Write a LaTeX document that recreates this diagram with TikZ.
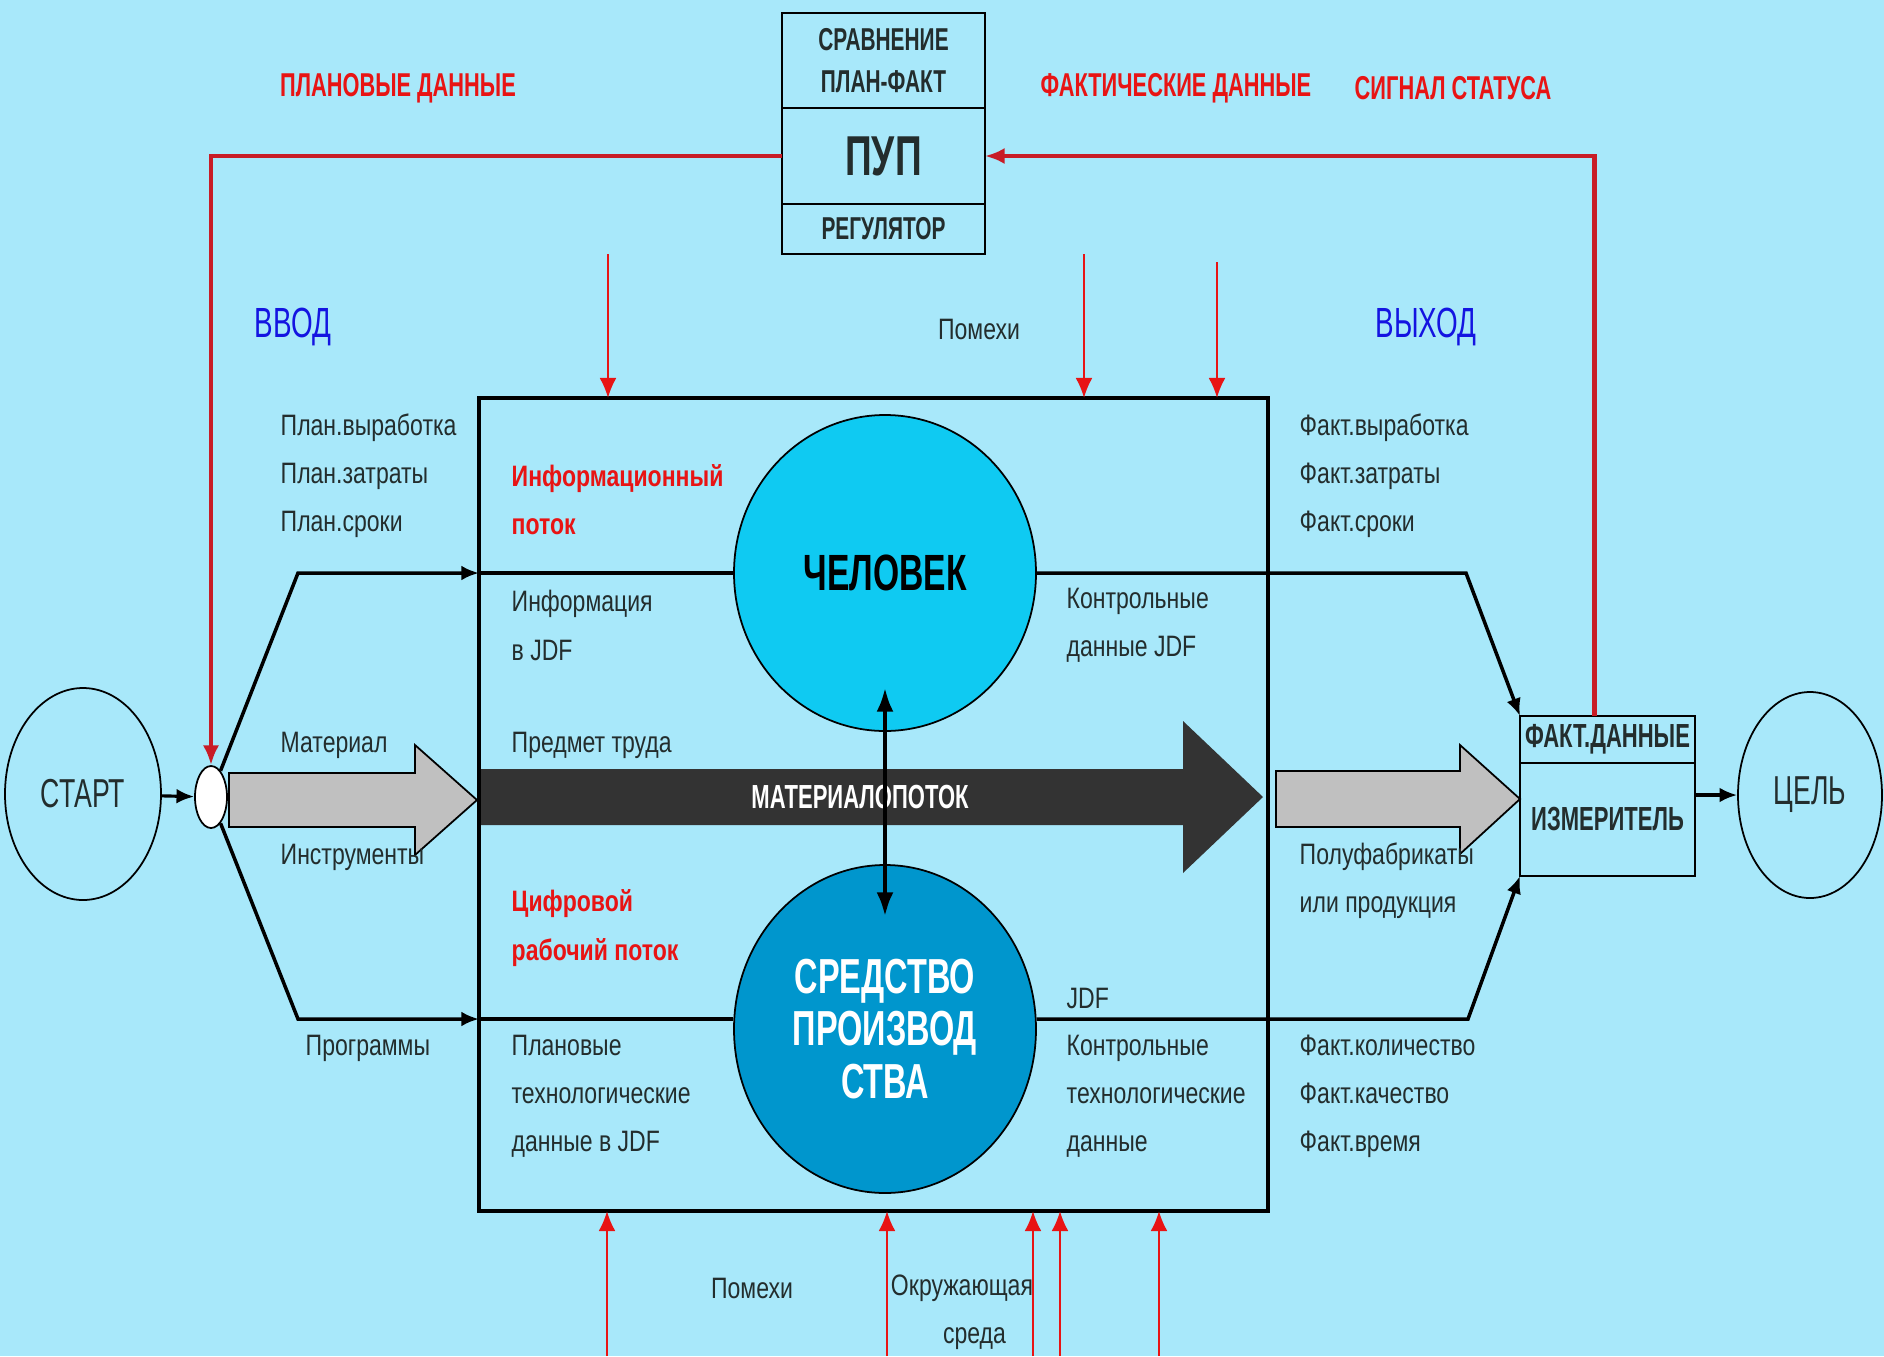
\documentclass[tikz,border=0pt]{standalone}
\usepackage{fontspec}
\setmainfont[FakeStretch=0.78]{Liberation Sans}
\newfontfamily\nrw[FakeStretch=0.66]{Liberation Sans}
\usetikzlibrary{shapes.geometric,positioning,arrows.meta}
\definecolor{bg}{RGB}{168,232,250}
\definecolor{manfill}{RGB}{15,202,242}
\definecolor{machfill}{RGB}{0,150,205}
\definecolor{fbred}{RGB}{232,20,20}
\definecolor{fbdark}{RGB}{200,28,38}
\definecolor{hdblue}{RGB}{20,20,225}
\definecolor{flowgray}{RGB}{192,192,192}
\definecolor{flowdark}{RGB}{51,51,51}
\definecolor{txt}{RGB}{35,45,45}
\tikzset{>={Latex[length=5pt,width=4.2pt]}}
\tikzset{
  lbl/.style = {anchor=west, inner sep=0pt, align=left, text=txt,
    font=\fontsize{8.4}{13.7}\selectfont},
  redlbl/.style = {lbl, text=fbred, font=\bfseries\fontsize{8.4}{13.7}\selectfont},
  head/.style = {inner sep=0pt, text=fbred, font=\nrw\bfseries\fontsize{9.4}{12}\selectfont},
  bluehead/.style = {inner sep=0pt, text=hdblue, font=\nrw\fontsize{12}{14}\selectfont},
  pbox/.style = {draw, line width=0.7pt, outer sep=0pt, minimum width=2.03cm,
    inner sep=0pt, align=center, text=txt},
  fbox/.style = {draw, line width=0.7pt, outer sep=0pt, minimum width=1.75cm,
    inner sep=0pt, text=txt, font=\nrw\bfseries\fontsize{9.5}{11}\selectfont},
  oval/.style = {ellipse, draw, line width=0.5pt, inner sep=0pt},
  flow/.style = {line width=1pt},
  fb/.style = {fbdark, line width=1.2pt, >={Latex[length=5.6pt,width=4.6pt]}},
  noise/.style = {fbred, line width=0.6pt, >={Latex[length=5.7pt,width=4.8pt]}}
}

\begin{document}
\begin{tikzpicture}
  \useasboundingbox[fill=bg] (0,0) rectangle (18.84,-13.56);
  % regulator
  \node[pbox,minimum height=0.95cm,font=\nrw\bfseries\fontsize{9}{12}\selectfont] (cmp) at (8.835,-0.605) {СРАВНЕНИЕ\\ПЛАН-ФАКТ};
  \node[pbox,minimum height=0.96cm,below=0pt of cmp,font=\nrw\bfseries\fontsize{16}{18}\selectfont] (pup) {ПУП};
  \node[pbox,minimum height=0.50cm,below=0pt of pup,font=\nrw\bfseries\fontsize{9}{12}\selectfont] (reg) {РЕГУЛЯТОР};
  \node[head] (plan) at (3.98,-0.88) {ПЛАНОВЫЕ ДАННЫЕ};
  \node[head] (fact) at (11.76,-0.88) {ФАКТИЧЕСКИЕ ДАННЫЕ};
  \node[head] (stat) at (14.53,-0.88) {СИГНАЛ СТАТУСА};
  \node[bluehead] (inp) at (2.93,-3.27) {ВВОД};
  \node[bluehead] (outp) at (14.26,-3.27) {ВЫХОД};
  % material flow
  \fill[flowgray,draw=black,line width=0.5pt] (2.29,-7.73) -- (4.15,-7.73) -- (4.15,-7.45)
    -- (4.77,-8.00) -- (4.15,-8.55) -- (4.15,-8.27) -- (2.29,-8.27) -- cycle;
  \fill[flowdark] (4.79,-7.69) -- (11.83,-7.69) -- (11.83,-7.21)
    -- (12.63,-7.97) -- (11.83,-8.73) -- (11.83,-8.25) -- (4.79,-8.25) -- cycle;
  \fill[flowgray,draw=black,line width=0.5pt] (12.76,-7.71) -- (14.60,-7.71) -- (14.60,-7.45)
    -- (15.20,-7.99) -- (14.60,-8.54) -- (14.60,-8.27) -- (12.76,-8.27) -- cycle;
  \node[inner sep=0pt,text=white,font=\nrw\bfseries\fontsize{9.5}{11}\selectfont] (mflow) at (8.60,-7.97) {МАТЕРИАЛОПОТОК};
  % system
  \node[draw,line width=1.3pt,outer sep=0pt,minimum width=7.89cm,minimum height=8.13cm] (box) at (8.735,-8.045) {};
  \node[oval,fill=manfill,minimum width=3.02cm,minimum height=3.16cm,font=\nrw\bfseries\fontsize{14.5}{16}\selectfont] (man) at (8.85,-5.73) {ЧЕЛОВЕК};
  \node[oval,fill=machfill,text=white,align=center,minimum width=3.02cm,minimum height=3.28cm,font=\nrw\bfseries\fontsize{14}{15}\selectfont] (mach) at (8.85,-10.29) {СРЕДСТВО\\ПРОИЗВОД\\СТВА};
  \draw[<->,line width=1.4pt,>={Latex[length=7pt,width=4.8pt]}] ([yshift=-1.14cm]man.center) -- ([yshift=1.12cm]mach.center);
  % start, goal, measuring
  \node[oval,minimum width=1.56cm,minimum height=2.12cm,text=txt,font=\nrw\fontsize{11.5}{13}\selectfont] (start) at (0.83,-7.94) {СТАРТ};
  \node[oval,fill=white,minimum width=0.32cm,minimum height=0.62cm] (jn) at (2.11,-7.97) {};
  \node[oval,minimum width=1.44cm,minimum height=2.06cm,text=txt,font=\nrw\fontsize{11.5}{13}\selectfont] (goal) at (18.10,-7.95) {ЦЕЛЬ};
  \node[fbox,minimum height=0.47cm] (fdat) at (16.075,-7.395) {ФАКТ.ДАННЫЕ};
  \node[fbox,minimum height=1.13cm,below=0pt of fdat] (msr) {ИЗМЕРИТЕЛЬ};
  \draw[->,line width=0.9pt] (start) -- (jn);
  \draw[->,line width=0.9pt] (msr.east |- goal) -- (goal);
  % information flows
  \coordinate (tl) at (2.98,-5.73);
  \coordinate (tr) at (14.66,-5.73);
  \coordinate (bl) at (2.98,-10.19);
  \coordinate (br) at (14.68,-10.19);
  \draw[flow,->] (jn.70) -- (tl) -- (tl -| box.west);
  \draw[flow] (tl -| box.west) -- (man.west);
  \draw[flow,->] (man.east) -- (tr) -- (fdat.north west);
  \draw[flow,->] (jn.-70) -- (bl) -- (bl -| box.west);
  \draw[flow] (bl -| box.west) -- (bl -| mach.west);
  \draw[flow,->] (bl -| mach.east) -- (br) -- (msr.south west);
  % feedback
  \draw[fb,->] (pup.west) -| (jn.north);
  \draw[fb,->] ([xshift=-0.13cm]fdat.north) |- (pup.east);
  % disturbances
  \foreach \x/\y in {6.08/2.54,10.84/2.54,12.17/2.62}
    \draw[noise,->] (\x,-\y) -- (\x,0 |- box.north);
  \foreach \x in {6.07,8.87,10.33,10.60,11.59}
    \draw[noise,->] (\x,-13.56) -- (\x,0 |- box.south);
  \node[lbl,anchor=center] (noise1) at (9.79,-3.29) {Помехи};
  \node[lbl,anchor=center] (noise2) at (7.52,-12.88) {Помехи};
  \node[lbl,anchor=center,align=center] (env) at (9.62,-13.12) {Окружающая\\\hspace*{0.25cm}среда};
  % labels
  \node[lbl] (pl) at (2.80,-4.76) {План.выработка\\План.затраты\\План.сроки};
  \node[redlbl] (iflow) at (5.11,-5.00) {Информационный\\поток};
  \node[lbl] (ijdf) at (5.11,-6.255) {Информация\\в JDF};
  \node[lbl] (mat) at (2.80,-7.45) {Материал};
  \node[lbl] (subj) at (5.11,-7.45) {Предмет труда};
  \node[lbl] (tool) at (2.80,-8.57) {Инструменты};
  \node[redlbl] (dflow) at (5.11,-9.28) {Цифровой\\рабочий поток};
  \node[lbl] (prog) at (3.05,-10.48) {Программы};
  \node[lbl] (ptech) at (5.11,-10.96) {Плановые\\технологические\\данные в JDF};
  \node[lbl] (cjdf) at (10.66,-6.255) {Контрольные\\данные JDF};
  \node[lbl] (jdf) at (10.66,-9.98) {JDF};
  \node[lbl] (ctech) at (10.66,-10.96) {Контрольные\\технологические\\данные};
  \node[lbl] (fa) at (12.99,-4.76) {Факт.выработка\\Факт.затраты\\Факт.сроки};
  \node[lbl] (semi) at (12.99,-8.81) {Полуфабрикаты\\или продукция};
  \node[lbl] (fb) at (12.99,-10.96) {Факт.количество\\Факт.качество\\Факт.время};
\end{tikzpicture}
\end{document}
